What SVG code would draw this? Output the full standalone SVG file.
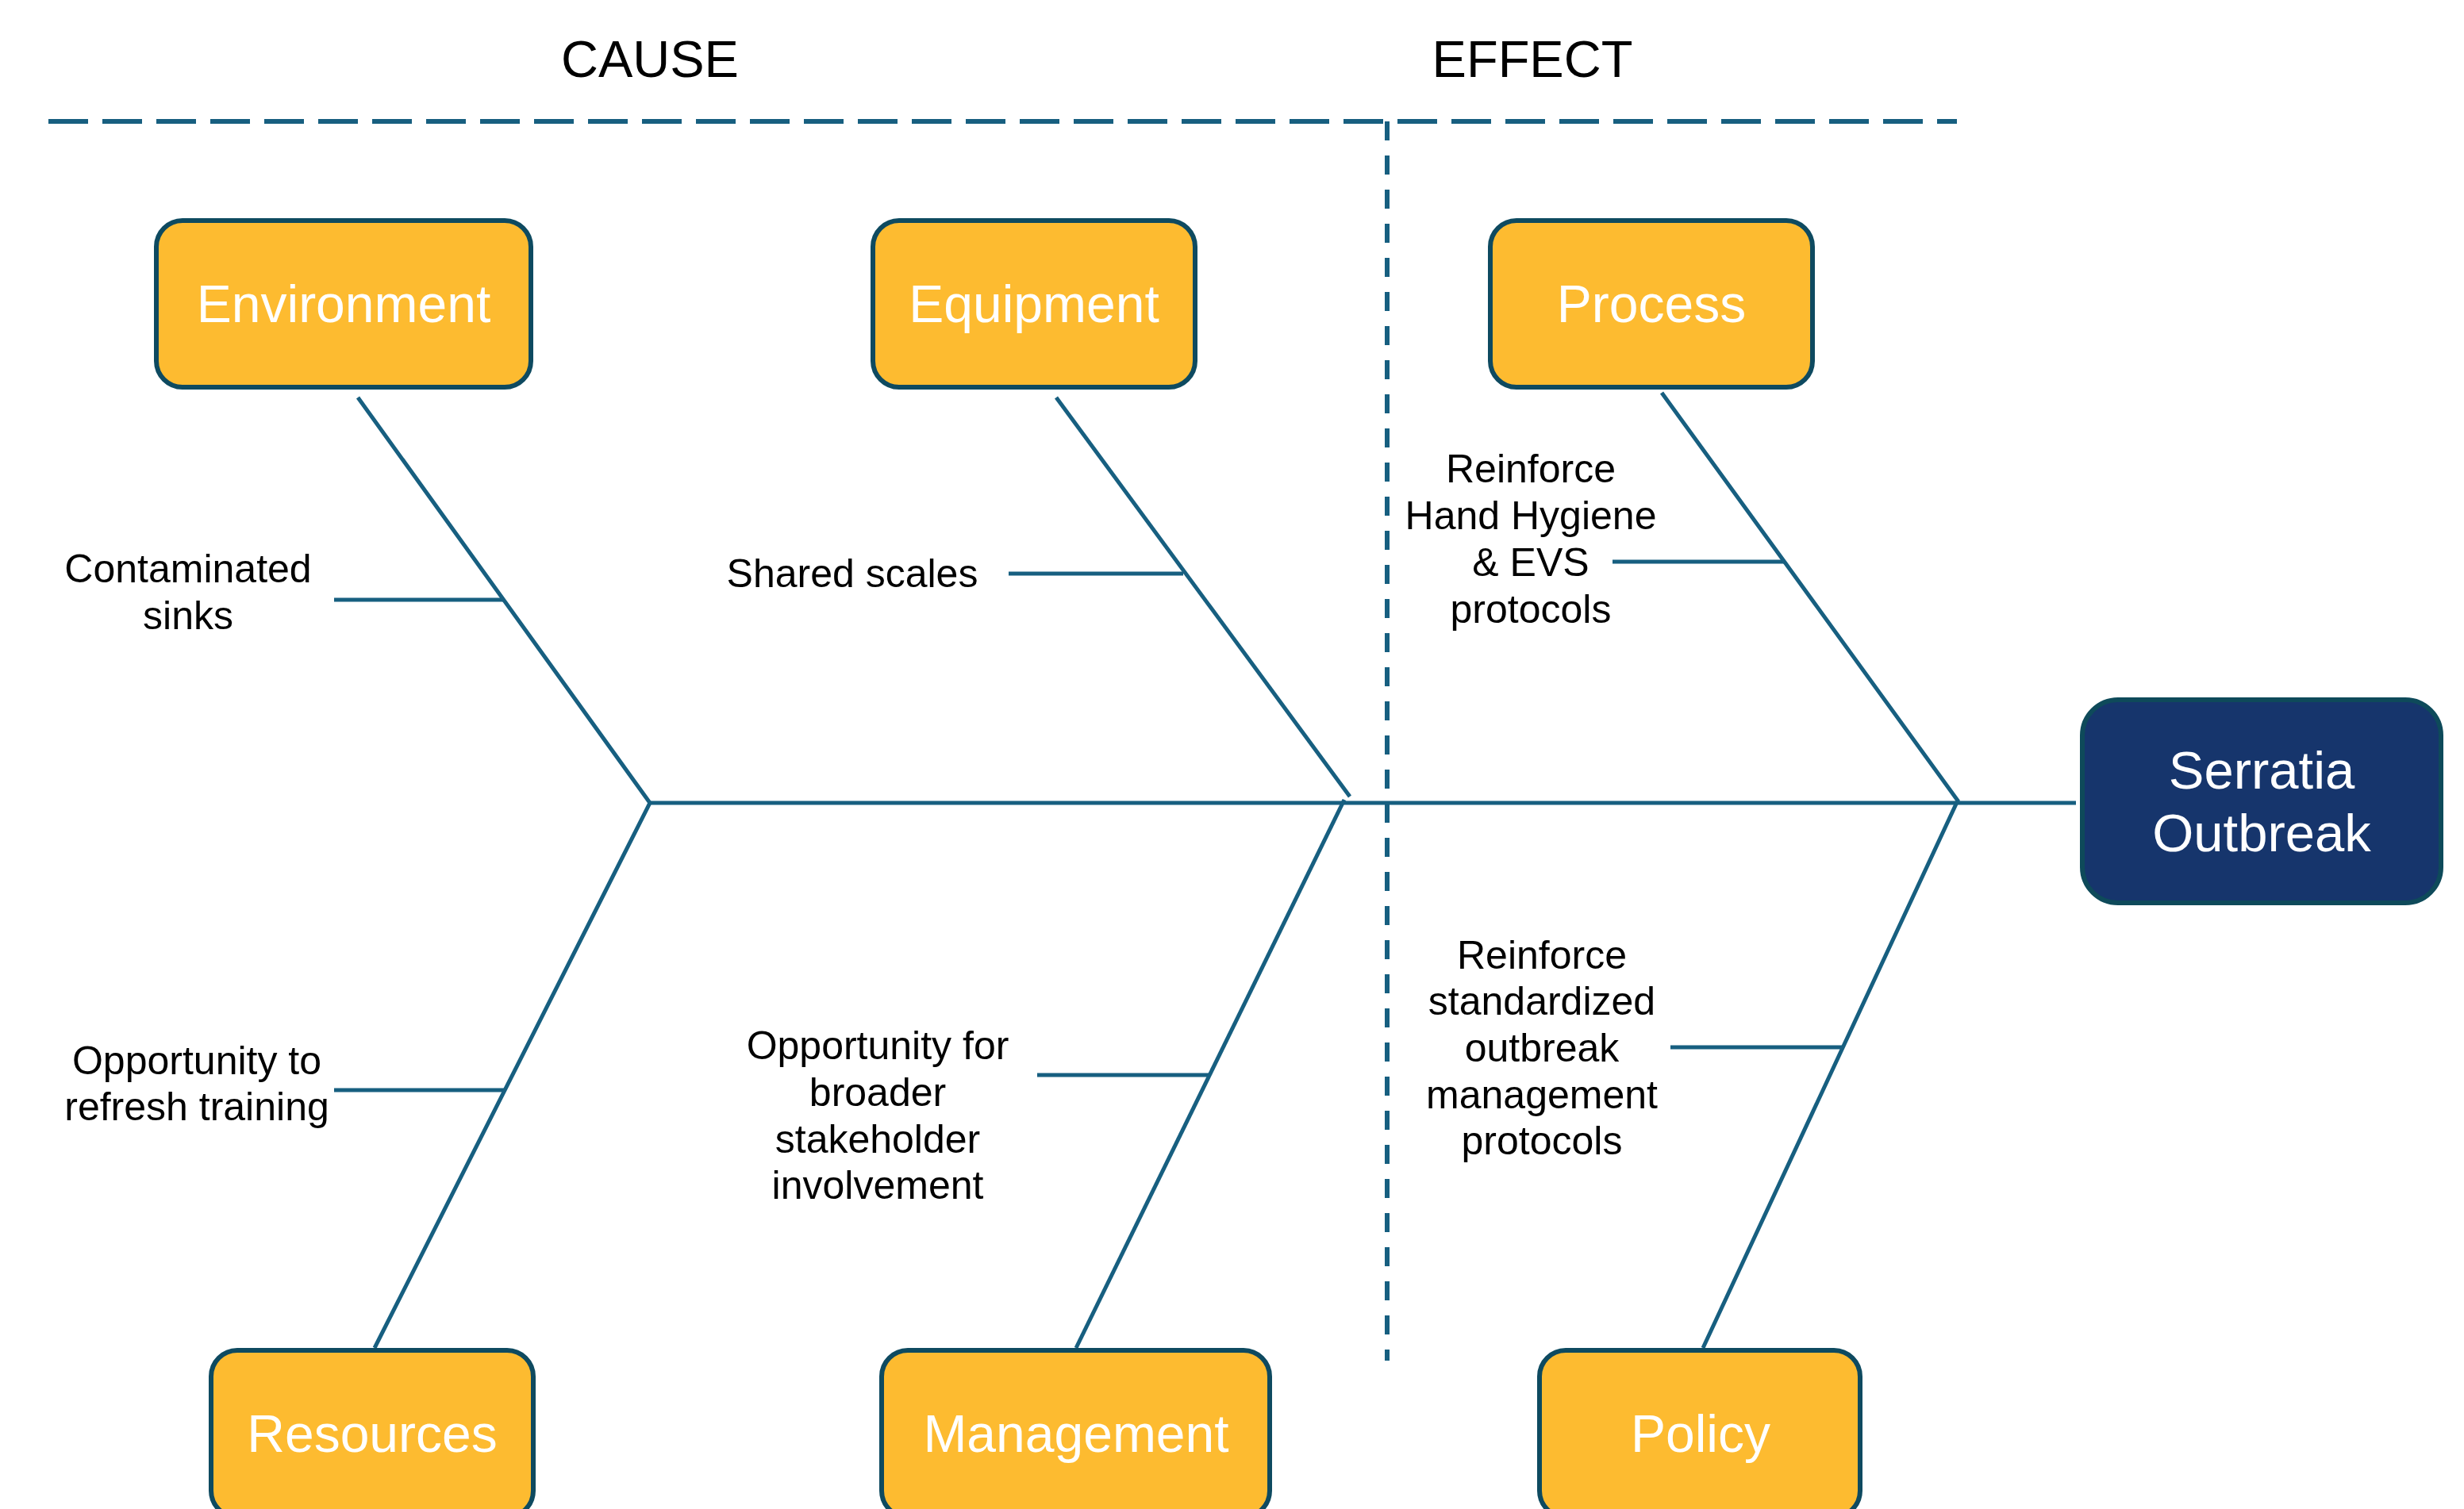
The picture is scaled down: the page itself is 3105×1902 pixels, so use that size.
<svg xmlns="http://www.w3.org/2000/svg" width="3105" height="1902" viewBox="0 0 3105 1902">
<style>
.cat rect{fill:#fdbb30;stroke:#0e4a60;stroke-width:6}
.cat text{fill:#ffffff;font-family:"Liberation Sans",Arial,sans-serif;font-size:66px;text-anchor:middle}
.head{fill:#000000;font-family:"Liberation Sans",Arial,sans-serif;font-size:65px;text-anchor:middle}
.lbl{fill:#000000;font-family:"Liberation Sans",Arial,sans-serif;font-size:50px;text-anchor:middle}
.ln{stroke:#175f80;stroke-width:5;fill:none}
.dash{stroke:#175f80;stroke-width:6;fill:none}
</style>
<rect width="3105" height="1902" fill="#ffffff"/>
<g id="headers">
<text class="head" x="819" y="97">CAUSE</text>
<text class="head" x="1931" y="97">EFFECT</text>
</g>
<g id="dividers">
<path class="dash" d="M61 153 H2466" stroke-dasharray="50 18"/>
<path class="dash" d="M1748 153 V1715" stroke-dasharray="24 19"/>
</g>
<g id="connectors">
<path class="ln" d="M817 1012 H2616" stroke-width="6"/>
<path class="ln" d="M451 501 L819 1012 L472 1699"/>
<path class="ln" d="M1331 501 L1701 1004"/>
<path class="ln" d="M1694 1008 L1356 1699"/>
<path class="ln" d="M2094 495 L2467 1009 L2146 1699"/>
<path class="ln" d="M421 756 H634"/>
<path class="ln" d="M1271 723 H1491"/>
<path class="ln" d="M2032 708 H2248"/>
<path class="ln" d="M421 1374 H636"/>
<path class="ln" d="M1307 1355 H1523"/>
<path class="ln" d="M2105 1320 H2321"/>
</g>
<g id="environment" class="cat">
<rect x="197" y="278" width="472" height="210" rx="33"/>
<text x="433" y="406">Environment</text>
</g>
<g id="equipment" class="cat">
<rect x="1100" y="278" width="406" height="210" rx="33"/>
<text x="1303" y="406">Equipment</text>
</g>
<g id="process" class="cat">
<rect x="1878" y="278" width="406" height="210" rx="33"/>
<text x="2081" y="406">Process</text>
</g>
<g id="resources" class="cat">
<rect x="266" y="1702" width="406" height="210" rx="33"/>
<text x="469" y="1830">Resources</text>
</g>
<g id="management" class="cat">
<rect x="1111" y="1702" width="489" height="210" rx="33"/>
<text x="1356" y="1830">Management</text>
</g>
<g id="policy" class="cat">
<rect x="1940" y="1702" width="404" height="210" rx="33"/>
<text x="2143" y="1830">Policy</text>
</g>
<g id="serratia-outbreak">
<rect x="2624" y="882" width="452" height="256" rx="45" fill="#16356c" stroke="#0e4a5a" stroke-width="6"/>
<text x="2850" y="994" fill="#ffffff" font-family="Liberation Sans, Arial, sans-serif" font-size="67" text-anchor="middle">Serratia</text>
<text x="2850" y="1073" fill="#ffffff" font-family="Liberation Sans, Arial, sans-serif" font-size="67" text-anchor="middle">Outbreak</text>
</g>
<g id="labels">
<text class="lbl" x="237" y="734">Contaminated</text>
<text class="lbl" x="237" y="793">sinks</text>
<text class="lbl" x="1074" y="740">Shared scales</text>
<text class="lbl" x="1929" y="608">Reinforce</text>
<text class="lbl" x="1929" y="667">Hand Hygiene</text>
<text class="lbl" x="1929" y="726">&amp; EVS</text>
<text class="lbl" x="1929" y="785">protocols</text>
<text class="lbl" x="248" y="1354">Opportunity to</text>
<text class="lbl" x="248" y="1412">refresh training</text>
<text class="lbl" x="1106" y="1335">Opportunity for</text>
<text class="lbl" x="1106" y="1394">broader</text>
<text class="lbl" x="1106" y="1453">stakeholder</text>
<text class="lbl" x="1106" y="1511">involvement</text>
<text class="lbl" x="1943" y="1221">Reinforce</text>
<text class="lbl" x="1943" y="1279">standardized</text>
<text class="lbl" x="1943" y="1338">outbreak</text>
<text class="lbl" x="1943" y="1397">management</text>
<text class="lbl" x="1943" y="1455">protocols</text>
</g>
</svg>
